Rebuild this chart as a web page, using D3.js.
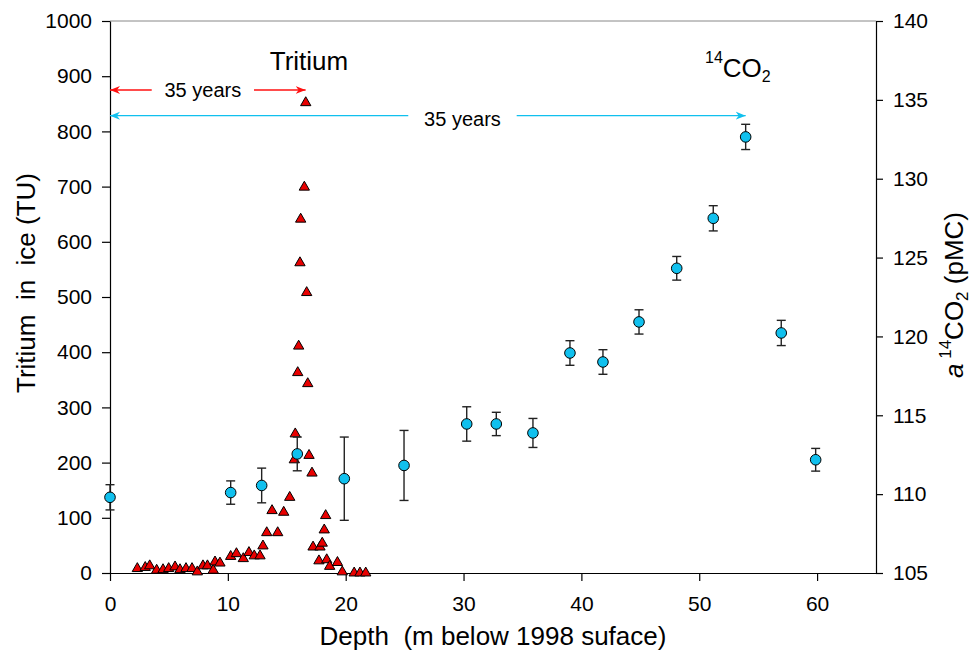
<!DOCTYPE html>
<html>
<head>
<meta charset="utf-8">
<script src="https://cdn.jsdelivr.net/npm/d3@7"></script>
<style>
body { margin: 0; background: #fff; }
text { font-family: "Liberation Sans", Arial, sans-serif; fill: #000; }
</style>
</head>
<body>
<div class="content"></div>
<script>
// tritium in ice (triangles, left axis)
var triDepth = [2.32, 2.99, 3.37, 3.96, 4.50, 4.98, 5.52, 5.94, 6.45, 6.96, 7.41, 7.89, 8.27, 8.76, 8.91, 9.33,
  10.24, 10.73, 11.31, 11.79, 12.24, 12.73, 12.98, 13.30, 13.75, 14.23, 14.74, 15.25, 15.64, 15.72, 15.93, 16.01,
  16.12, 16.18, 16.49, 16.61, 16.69, 16.78, 16.89, 17.14, 17.23, 17.73, 17.82, 18.01, 18.18, 18.30, 18.39, 18.64,
  19.30, 19.71, 20.72, 21.21, 21.70];
var triTU = [8, 10, 13, 5, 6, 8, 11, 6, 8, 8, 2, 13, 13, 5, 20, 18,
  30, 35, 26, 37, 31, 31, 49, 73, 113, 73, 110, 137, 205, 252, 363, 411,
  562, 641, 699, 852, 508, 343, 213, 181, 47, 22, 47, 54, 78, 104, 24, 12,
  19, 2, 0, 0, 0];

// 14CO2 (circles with error bars, right axis)
var co2Depth = [0, 10.24, 12.87, 15.89, 19.88, 24.95, 30.27, 32.78, 35.89, 39.03, 41.83, 44.89, 48.09, 51.19, 53.94, 56.96, 59.88];
var co2Val = [109.8, 110.1, 110.55, 112.55, 110.98, 111.82, 114.45, 114.45, 113.88, 118.95, 118.38, 120.92, 124.32, 127.49, 132.65, 120.22, 112.18];
var co2Err = [0.8, 0.74, 1.1, 1.07, 2.64, 2.22, 1.09, 0.74, 0.92, 0.78, 0.78, 0.77, 0.75, 0.8, 0.8, 0.8, 0.72];

var depthTicks = [0, 10, 20, 30, 40, 50, 60];
var tuTicks = [0, 100, 200, 300, 400, 500, 600, 700, 800, 900, 1000];
var pmcTicks = [105, 110, 115, 120, 125, 130, 135, 140];

function drawChart() {
  var width = 972, height = 650;
  var m = {left: 110, right: 96, top: 21, bottom: 77};

  var svg = d3.select(".content").append("svg").attr("width", width).attr("height", height);

  var x = d3.scaleLinear().domain([0, 65]).range([m.left, width - m.right]);
  var yL = d3.scaleLinear().domain([0, 1000]).range([height - m.bottom, m.top]);
  var yR = d3.scaleLinear().domain([105, 140]).range([height - m.bottom, m.top]);

  // frame top
  svg.append("line").attr("x1", m.left).attr("x2", width - m.right)
    .attr("y1", m.top).attr("y2", m.top).attr("stroke", "#888").attr("stroke-width", 1);

  // axes
  var gx = svg.append("g").attr("transform", "translate(0," + (height - m.bottom) + ")");
  gx.call(d3.axisBottom(x).tickValues(d3.range(0, 66)).tickSize(4).tickSizeOuter(0).tickFormat(""));
  gx.call(d3.axisBottom(x).tickValues(depthTicks).tickSize(8).tickSizeOuter(0).tickPadding(15).tickFormat(d3.format("d")));

  svg.append("g").attr("transform", "translate(" + m.left + ",0)")
    .call(d3.axisLeft(yL).tickValues(tuTicks).tickSize(8).tickSizeOuter(0).tickPadding(10).tickFormat(d3.format("d")));
  svg.append("g").attr("transform", "translate(" + (width - m.right) + ",0)")
    .call(d3.axisRight(yR).tickValues(pmcTicks).tickSize(7).tickSizeOuter(0).tickPadding(10).tickFormat(d3.format("d")));

  svg.selectAll(".domain, .tick line").attr("stroke", "#000").attr("stroke-width", 1.2);
  svg.selectAll(".tick text").attr("font-size", 21).attr("font-family", "Liberation Sans, Arial, sans-serif").attr("fill", "#000");

  // axis titles
  svg.append("text").attr("transform", "translate(35,283) rotate(-90)")
    .attr("text-anchor", "middle").attr("font-size", 26).attr("xml:space", "preserve")
    .text("Tritium  in  ice (TU)");
  svg.append("text").attr("x", 493).attr("y", 645)
    .attr("text-anchor", "middle").attr("font-size", 26).attr("xml:space", "preserve")
    .text("Depth  (m below 1998 suface)");

  var rt = svg.append("text").attr("transform", "translate(963,295) rotate(-90)")
    .attr("text-anchor", "middle").attr("font-size", 26);
  rt.append("tspan").attr("font-style", "italic").text("a");
  rt.append("tspan").attr("font-size", 17).attr("dy", -12).text(" 14");
  rt.append("tspan").attr("dy", 12).text("CO");
  rt.append("tspan").attr("font-size", 17).attr("dy", 5).text("2");
  rt.append("tspan").attr("dy", -5).text(" (pMC)");

  // series labels
  svg.append("text").attr("x", 309).attr("y", 70).attr("text-anchor", "middle").attr("font-size", 26).text("Tritium");
  var ct = svg.append("text").attr("x", 705).attr("y", 77).attr("font-size", 26);
  ct.append("tspan").attr("font-size", 16).attr("dy", -14).text("14");
  ct.append("tspan").attr("dy", 14).text("CO");
  ct.append("tspan").attr("font-size", 16).attr("dy", 5).text("2");

  // arrows "35 years"
  var defs = svg.append("defs");
  [["arR", "#ff1010"], ["arC", "#10c0ee"]].forEach(function(a) {
    defs.append("marker").attr("id", a[0]).attr("viewBox", "0 -5 10 10")
      .attr("refX", 10).attr("refY", 0).attr("markerWidth", 10).attr("markerHeight", 10)
      .attr("markerUnits", "userSpaceOnUse").attr("orient", "auto-start-reverse")
      .append("path").attr("d", "M0,-4L10,0L0,4L3,0Z").attr("fill", a[1]);
  });
  var arrows = [
    {level: 875, from: 0, gapA: 3.54, gapB: 12.22, to: 16.6, color: "#ff1010", mk: "arR", dy: "0.35em"},
    {level: 828.5, from: 0, gapA: 25.31, gapB: 34.51, to: 53.94, color: "#10c0ee", mk: "arC", dy: "0.5em"}
  ];
  arrows.forEach(function(a) {
    var yy = yL(a.level);
    svg.append("line").attr("x1", x(a.gapA)).attr("x2", x(a.from)).attr("y1", yy).attr("y2", yy)
      .attr("stroke", a.color).attr("stroke-width", 1.3).attr("marker-end", "url(#" + a.mk + ")");
    svg.append("line").attr("x1", x(a.gapB)).attr("x2", x(a.to)).attr("y1", yy).attr("y2", yy)
      .attr("stroke", a.color).attr("stroke-width", 1.3).attr("marker-end", "url(#" + a.mk + ")");
    svg.append("text").attr("x", (x(a.gapA) + x(a.gapB)) / 2).attr("y", yy).attr("dy", a.dy)
      .attr("text-anchor", "middle").attr("font-size", 20).text("35 years");
  });

  // tritium triangles
  var tri = d3.symbol().type(d3.symbolTriangle).size(46);
  svg.append("g").selectAll("path").data(triDepth).enter().append("path")
    .attr("d", tri)
    .attr("transform", function(d, i) { return "translate(" + x(d) + "," + yL(triTU[i]) + ")"; })
    .attr("fill", "#e80000").attr("stroke", "#000").attr("stroke-width", 1);

  // 14CO2 error bars and circles
  var eb = svg.append("g").selectAll("g").data(co2Depth).enter().append("g");
  eb.append("line").attr("x1", function(d) { return x(d); }).attr("x2", function(d) { return x(d); })
    .attr("y1", function(d, i) { return yR(co2Val[i] + co2Err[i]); })
    .attr("y2", function(d, i) { return yR(co2Val[i] - co2Err[i]); })
    .attr("stroke", "#222").attr("stroke-width", 1.4);
  [1, -1].forEach(function(s) {
    eb.append("line").attr("x1", function(d) { return x(d) - 4.5; }).attr("x2", function(d) { return x(d) + 4.5; })
      .attr("y1", function(d, i) { return yR(co2Val[i] + s * co2Err[i]); })
      .attr("y2", function(d, i) { return yR(co2Val[i] + s * co2Err[i]); })
      .attr("stroke", "#222").attr("stroke-width", 1.4);
  });
  eb.append("circle").attr("cx", function(d) { return x(d); })
    .attr("cy", function(d, i) { return yR(co2Val[i]); })
    .attr("r", 5.3).attr("fill", "#10c0ee").attr("stroke", "#000").attr("stroke-width", 1);
}
drawChart();
</script>
</body>
</html>
